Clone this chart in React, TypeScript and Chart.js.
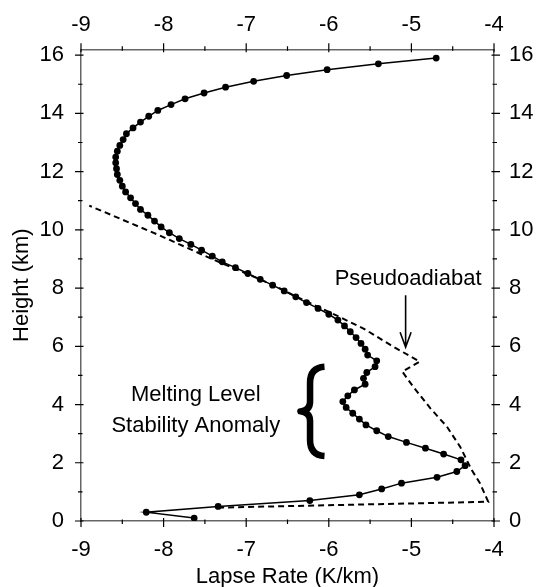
import React, { useEffect, useRef } from 'react';
import { Chart, registerables } from 'chart.js';

Chart.register(...registerables);

// Sounding: height (km) and lapse rate (K/km)
const heights = [
  0.1, 0.3, 0.5, 0.7, 0.9, 1.1, 1.3, 1.5, 1.7, 1.9,
  2.1, 2.3, 2.5, 2.7, 2.9, 3.1, 3.3, 3.5, 3.7, 3.9,
  4.1, 4.3, 4.5, 4.7, 4.9, 5.1, 5.3, 5.5, 5.7, 5.9,
  6.1, 6.3, 6.5, 6.7, 6.9, 7.1, 7.3, 7.5, 7.7, 7.9,
  8.1, 8.3, 8.5, 8.7, 8.9, 9.1, 9.3, 9.5, 9.7, 9.9,
  10.1, 10.3, 10.5, 10.7, 10.9, 11.1, 11.3, 11.5, 11.7, 11.9,
  12.1, 12.3, 12.5, 12.7, 12.9, 13.1, 13.3, 13.5, 13.7, 13.9,
  14.1, 14.3, 14.5, 14.7, 14.9, 15.1, 15.3, 15.5, 15.7, 15.9,
];
const lapseRates = [
  -7.63, -8.21, -7.34, -6.23, -5.63, -5.36, -5.12, -4.69, -4.45, -4.35,
  -4.4, -4.61, -4.83, -5.06, -5.28, -5.42, -5.55, -5.63, -5.71, -5.79,
  -5.83, -5.77, -5.69, -5.56, -5.58, -5.54, -5.44, -5.42, -5.53, -5.56,
  -5.61, -5.67, -5.74, -5.81, -5.89, -6.0, -6.13, -6.27, -6.4, -6.54,
  -6.68, -6.83, -6.98, -7.13, -7.29, -7.41, -7.54, -7.67, -7.81, -7.93,
  -8.03, -8.11, -8.19, -8.28, -8.34, -8.4, -8.46, -8.5, -8.53, -8.56,
  -8.57, -8.58, -8.58, -8.56, -8.53, -8.49, -8.45, -8.37, -8.28, -8.18,
  -8.07, -7.91, -7.74, -7.51, -7.25, -6.91, -6.51, -6.02, -5.4, -4.7,
];

// Pseudoadiabat (dashed)
const pseudoHeights = [0.46, 0.66, 1.3, 1.75, 2.55, 3.24, 3.87, 4.62, 5.05, 5.13, 5.47, 6.04, 6.61, 7.13, 7.7, 8.1, 8.98, 9.81, 10.83];
const pseudoLapse = [-7.34, -4.07, -4.17, -4.27, -4.41, -4.57, -4.77, -4.98, -5.09, -5.11, -4.9, -5.25, -5.58, -5.96, -6.39, -6.67, -7.4, -8.05, -8.9];

// Axis ticks
const xTickLabels = [-9, -8, -7, -6, -5, -4];
const yTickLabels = [0, 2, 4, 6, 8, 10, 12, 14, 16];
const xTickMarks = [-9, -8.5, -8, -7.5, -7, -6.5, -6, -5.5, -5, -4.5, -4];
const yTickMarks = [0, 1, 2, 3, 4, 5, 6, 7, 8, 9, 10, 11, 12, 13, 14, 15, 16];

const FONT = '"Liberation Sans", Arial, Helvetica, sans-serif';

// Annotations (data coordinates)
const pseudoLabel = { text: 'Pseudoadiabat', x: -5.04, y: 8.33 };
const pseudoArrow = { x: -5.07, yFrom: 7.75, yTo: 5.97 };
const anomalyLines = ['Melting Level', 'Stability Anomaly'];
const anomalyLabel = { x: -7.61, y1: 4.33, y2: 3.26 };
const brace = { xLeft: -6.38, xRight: -6.04, yTop: 5.4, yBottom: 2.13 };

const overlayPlugin = {
  id: 'overlay',
  afterDraw(chart: any) {
    const ctx = chart.ctx as CanvasRenderingContext2D;
    const xs = chart.scales.x;
    const ys = chart.scales.y;
    const area = chart.chartArea;
    ctx.save();
    // tick marks
    ctx.strokeStyle = '#000';
    ctx.lineWidth = 1.2;
    ctx.beginPath();
    for (const v of xTickMarks) {
      const px = xs.getPixelForValue(v);
      const major = Number.isInteger(v);
      const out = major ? 6 : 3;
      const inn = major ? 3 : 1.5;
      ctx.moveTo(px, area.bottom - inn);
      ctx.lineTo(px, area.bottom + out);
      ctx.moveTo(px, area.top + inn);
      ctx.lineTo(px, area.top - out);
    }
    for (const v of yTickMarks) {
      const py = ys.getPixelForValue(v);
      const major = v % 2 === 0;
      const out = major ? 6 : 3;
      const inn = major ? 2.5 : 1.5;
      ctx.moveTo(area.left + inn, py);
      ctx.lineTo(area.left - out, py);
      ctx.moveTo(area.right - inn, py);
      ctx.lineTo(area.right + out, py);
    }
    ctx.stroke();

    // texts
    ctx.fillStyle = '#000';
    ctx.font = '22px ' + FONT;
    ctx.textAlign = 'center';
    ctx.textBaseline = 'middle';
    ctx.fillText(pseudoLabel.text, xs.getPixelForValue(pseudoLabel.x), ys.getPixelForValue(pseudoLabel.y));
    const ax = xs.getPixelForValue(anomalyLabel.x);
    ctx.fillText(anomalyLines[0], ax, ys.getPixelForValue(anomalyLabel.y1));
    ctx.fillText(anomalyLines[1], ax, ys.getPixelForValue(anomalyLabel.y2));

    // arrow
    const arx = xs.getPixelForValue(pseudoArrow.x);
    const ay1 = ys.getPixelForValue(pseudoArrow.yFrom);
    const ay2 = ys.getPixelForValue(pseudoArrow.yTo);
    ctx.lineWidth = 1.6;
    ctx.beginPath();
    ctx.moveTo(arx, ay1);
    ctx.lineTo(arx, ay2);
    ctx.moveTo(arx - 5.5, ay2 - 15);
    ctx.lineTo(arx, ay2);
    ctx.lineTo(arx + 5.5, ay2 - 15);
    ctx.stroke();

    // brace
    const bl = xs.getPixelForValue(brace.xLeft);
    const br = xs.getPixelForValue(brace.xRight);
    const bt = ys.getPixelForValue(brace.yTop);
    const bb = ys.getPixelForValue(brace.yBottom);
    const w = br - bl;
    const h = bb - bt;
    const bm = (bt + bb) / 2;
    const sx = bl + 0.45 * w;
    ctx.lineWidth = 6.5;
    ctx.lineCap = 'butt';
    ctx.lineJoin = 'round';
    ctx.beginPath();
    ctx.moveTo(br - 1, bt + 3);
    ctx.quadraticCurveTo(sx, bt + 4, sx, bt + 0.2 * h);
    ctx.lineTo(sx, bm - 0.1 * h);
    ctx.quadraticCurveTo(sx, bm - 0.01 * h, bl + 3, bm);
    ctx.quadraticCurveTo(sx, bm + 0.01 * h, sx, bm + 0.1 * h);
    ctx.lineTo(sx, bb - 0.2 * h);
    ctx.quadraticCurveTo(sx, bb - 4, br - 1, bb - 3);
    ctx.stroke();
    ctx.restore();
  },
};

export default function App() {
  const canvasRef = useRef<HTMLCanvasElement | null>(null);

  useEffect(() => {
    const canvas = canvasRef.current;
    if (!canvas) return;
    const tickFont = { family: FONT, size: 22, lineHeight: 1.2 };
    const titleFont = { family: FONT, size: 22, lineHeight: 0.9 };
    const border = { display: true, color: '#666', width: 1.5 };
    const grid = { display: false, drawTicks: false };
    const xTicks = (s: any) => {
      s.ticks = xTickLabels.map((v) => ({ value: v }));
    };
    const yTicks = (s: any) => {
      s.ticks = yTickLabels.map((v) => ({ value: v }));
    };
    const chart = new Chart(canvas, {
      type: 'scatter',
      data: {
        datasets: [
          {
            label: 'Pseudoadiabat',
            data: pseudoLapse.map((v, i) => ({ x: v, y: pseudoHeights[i] })),
            showLine: true,
            borderColor: '#000',
            borderWidth: 2,
            borderDash: [6, 4],
            pointRadius: 0,
            tension: 0,
            fill: false,
          },
          {
            label: 'Lapse Rate',
            data: lapseRates.map((v, i) => ({ x: v, y: heights[i] })),
            showLine: true,
            borderColor: '#000',
            borderWidth: 1.5,
            pointRadius: 3.4,
            pointBackgroundColor: '#000',
            pointBorderWidth: 0,
            tension: 0,
            fill: false,
          },
        ],
      },
      options: {
        responsive: false,
        animation: false,
        devicePixelRatio: 1,
        layout: { padding: 0 },
        plugins: { legend: { display: false }, tooltip: { enabled: false } },
        scales: {
          x: {
            type: 'linear',
            position: 'bottom',
            min: -9,
            max: -4,
            afterBuildTicks: xTicks,
            afterFit: (s: any) => { s.height = 66; },
            ticks: { font: tickFont, color: '#000', padding: 16, maxRotation: 0, autoSkip: false, callback: (v: any) => String(v) },
            grid,
            border,
            title: { display: true, text: 'Lapse Rate (K/km)', font: titleFont, color: '#000', padding: 0 },
          },
          x2: {
            type: 'linear',
            position: 'top',
            min: -9,
            max: -4,
            afterBuildTicks: xTicks,
            afterFit: (s: any) => { s.height = 49.3; },
            ticks: { font: tickFont, color: '#000', padding: 11, maxRotation: 0, autoSkip: false, callback: (v: any) => String(v) },
            grid,
            border,
          },
          y: {
            type: 'linear',
            position: 'left',
            min: 0,
            max: 16.2,
            afterBuildTicks: yTicks,
            afterFit: (s: any) => { s.width = 81; },
            ticks: { font: tickFont, color: '#000', padding: 17, autoSkip: false, callback: (v: any) => String(v) },
            grid,
            border,
            title: { display: true, text: 'Height (km)', font: titleFont, color: '#000', padding: { top: 12, bottom: 0 } },
          },
          y2: {
            type: 'linear',
            position: 'right',
            min: 0,
            max: 16.2,
            afterBuildTicks: yTicks,
            afterFit: (s: any) => { s.width = 43; },
            ticks: { font: tickFont, color: '#000', padding: 15, autoSkip: false, callback: (v: any) => String(v) },
            grid,
            border,
          },
        },
      },
      plugins: [overlayPlugin],
    } as any);
    return () => chart.destroy();
  }, []);

  return (
    <div style={{ position: 'absolute', left: 0, top: 0, width: 537, height: 587, background: '#fff' }}>
      <canvas ref={canvasRef} width={537} height={587} style={{ width: 537, height: 587, display: 'block' }} />
    </div>
  );
}
